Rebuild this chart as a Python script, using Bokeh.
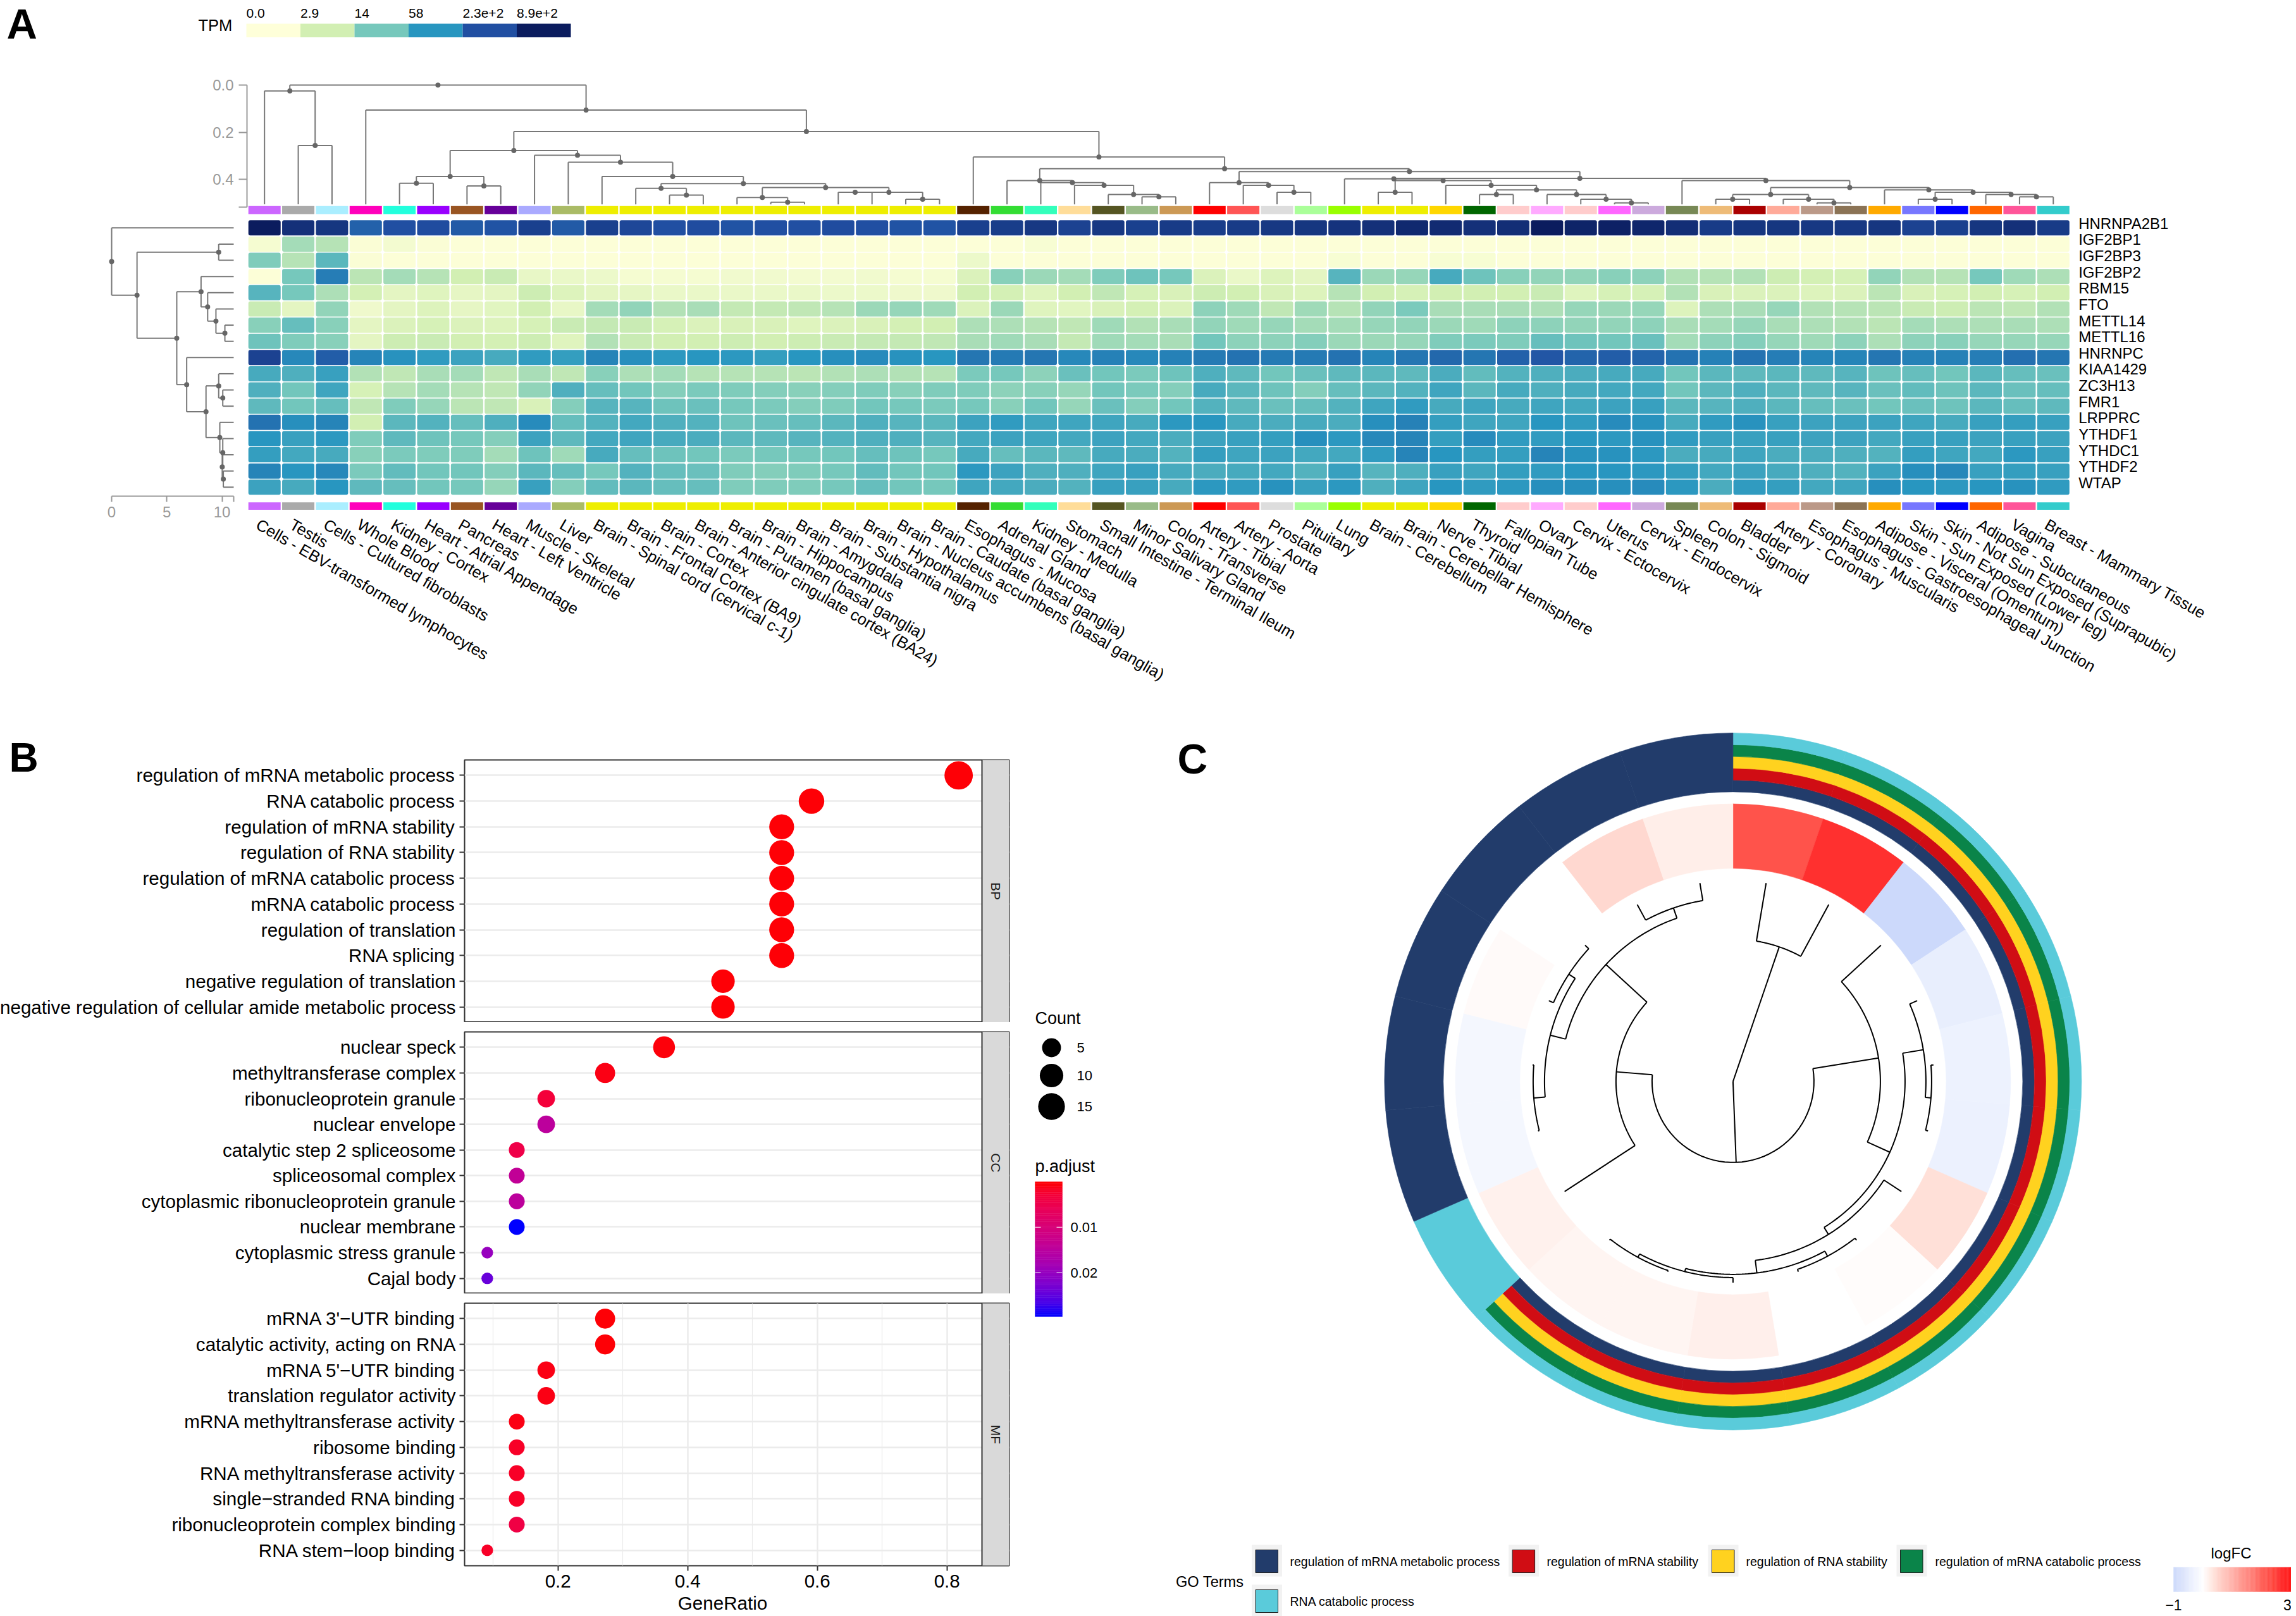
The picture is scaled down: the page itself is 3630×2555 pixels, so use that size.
from math import pi, sin, cos, sqrt
from bokeh.plotting import figure
from bokeh.models import Range1d, FixedTicker
from bokeh.core.properties import value
from bokeh.embed import file_html
from bokeh.resources import INLINE

FONT = "Liberation Sans"

# ------------------------------ PANEL A DATA ------------------------------
tissues = ["Cells - EBV-transformed lymphocytes","Testis","Cells - Cultured fibroblasts","Whole Blood","Kidney - Cortex",
 "Heart - Atrial Appendage","Pancreas","Heart - Left Ventricle","Muscle - Skeletal","Liver","Brain - Spinal cord (cervical c-1)",
 "Brain - Frontal Cortex (BA9)","Brain - Cortex","Brain - Anterior cingulate cortex (BA24)","Brain - Putamen (basal ganglia)",
 "Brain - Hippocampus","Brain - Amygdala","Brain - Substantia nigra","Brain - Hypothalamus","Brain - Nucleus accumbens (basal ganglia)",
 "Brain - Caudate (basal ganglia)","Esophagus - Mucosa","Adrenal Gland","Kidney - Medulla","Stomach","Small Intestine - Terminal Ileum",
 "Minor Salivary Gland","Colon - Transverse","Artery - Tibial","Artery - Aorta","Prostate","Pituitary","Lung","Brain - Cerebellum",
 "Brain - Cerebellar Hemisphere","Nerve - Tibial","Thyroid","Fallopian Tube","Ovary","Cervix - Ectocervix","Uterus","Cervix - Endocervix",
 "Spleen","Colon - Sigmoid","Bladder","Artery - Coronary","Esophagus - Muscularis","Esophagus - Gastroesophageal Junction",
 "Adipose - Visceral (Omentum)","Skin - Sun Exposed (Lower leg)","Skin - Not Sun Exposed (Suprapubic)","Adipose - Subcutaneous","Vagina","Breast - Mammary Tissue"]
tissue_colors = ["#CC66FF","#AAAAAA","#AAEEFF","#FF00BB","#22FFDD","#9900FF","#995522","#660099","#AAAAFF","#AABB66",
 "#EEEE00","#EEEE00","#EEEE00","#EEEE00","#EEEE00","#EEEE00","#EEEE00","#EEEE00","#EEEE00","#EEEE00","#EEEE00",
 "#552200","#33DD33","#33FFBB","#FFDD99","#555522","#99BB88","#CC9955","#FF0000","#FF5555","#DDDDDD","#AAFF99","#99FF00",
 "#EEEE00","#EEEE00","#FFD700","#006600","#FFCCCC","#FFAAFF","#FFCCCC","#FF66FF","#CCAADD","#778855","#EEBB77","#AA0000",
 "#FFAA99","#BB9988","#8B7355","#FFAA00","#7777FF","#0000FF","#FF6600","#FF5599","#33CCCC"]
genes = ["HNRNPA2B1","IGF2BP1","IGF2BP3","IGF2BP2","RBM15","FTO","METTL14","METTL16","HNRNPC","KIAA1429","ZC3H13","FMR1","LRPPRC","YTHDF1","YTHDC1","YTHDF2","WTAP"]
HNRNPA2B1=[100,92,90,75,80,81,77,79,86,77,86,83,80,81,79,80,80,81,80,79,79,86,87,89,85,89,86,88,87,88,89,90,91,92,95,94,92,93,100,97,98,96,93,88,90,90,89,89,90,85,86,90,92,88]
IGF2BP1=[4,30,26,2,5,2,1,1,1,1,1,1,1,1,1,1,1,1,1,1,1,1,1,3,1,1,1,1,1,1,1,1,1,1,1,1,1,1,1,1,1,1,1,1,1,1,1,1,1,1,1,1,1,1]
IGF2BP3=[38,26,47,2,1,1,1,1,1,1,1,1,1,1,1,1,1,1,1,1,1,8,1,1,1,1,1,1,1,1,1,1,3,1,1,3,3,1,1,1,1,1,1,1,1,1,1,1,1,1,1,1,1,1]
IGF2BP2=[1,40,67,25,30,26,20,22,10,9,8,4,4,4,6,6,5,5,6,4,4,16,36,32,30,38,42,40,16,9,15,12,48,32,33,52,42,36,34,34,36,35,27,26,27,21,19,18,34,27,26,40,31,28]
RBM15=[48,40,28,19,12,14,11,12,21,15,12,11,9,9,9,9,9,8,8,7,7,20,19,14,20,24,18,17,21,20,17,15,26,20,18,20,20,20,22,14,18,18,27,17,16,16,15,16,25,17,18,20,18,20]
FTO=[22,12,34,7,12,15,11,13,20,10,30,34,27,29,23,23,24,26,32,33,31,16,32,14,13,17,19,16,35,31,24,31,26,34,39,29,29,29,28,33,32,33,15,28,29,33,27,26,25,22,21,25,24,27]
METTL14=[36,44,36,12,16,18,16,15,18,22,23,22,18,16,17,17,14,16,17,19,20,28,28,26,24,31,27,29,34,31,33,30,30,33,34,32,31,35,35,34,34,35,29,30,33,29,28,27,25,30,28,28,29,28]
METTL16=[42,38,36,12,21,22,20,19,21,14,27,22,20,20,21,20,21,22,23,23,24,29,31,29,23,31,30,29,41,35,35,37,32,32,33,38,39,38,44,42,41,43,30,35,37,33,31,35,28,35,36,33,33,33]
HNRNPC=[85,64,76,65,61,58,55,52,58,57,65,62,59,60,59,57,60,62,63,61,60,69,68,69,64,66,64,66,68,70,68,68,70,65,69,73,69,75,78,74,76,74,70,66,70,67,65,65,69,66,66,67,71,69]
KIAA1429=[52,50,56,27,24,29,30,24,29,24,36,28,30,26,26,26,25,27,28,27,26,39,40,35,43,41,39,42,50,46,41,43,46,47,46,51,45,49,50,51,52,52,41,47,46,47,46,48,42,44,41,47,44,43]
ZC3H13=[50,41,54,18,26,30,26,24,34,50,44,41,37,39,38,37,36,37,38,36,38,38,35,36,33,41,39,37,52,47,42,37,44,47,49,54,47,52,50,52,53,53,41,47,50,47,46,48,43,45,42,47,43,44]
FMR1=[46,41,44,24,38,33,25,24,17,37,48,48,42,43,40,39,37,38,41,40,39,40,36,41,33,43,37,41,49,46,43,44,49,54,58,52,54,52,54,53,55,56,47,48,50,47,44,43,41,43,42,47,44,46]
LRPPRC=[70,62,65,20,47,49,44,50,63,44,49,53,50,49,42,43,44,47,50,48,47,55,58,54,54,54,52,59,60,52,51,52,51,62,66,57,54,54,60,58,63,61,52,58,61,56,55,55,55,54,52,56,57,56]
YTHDF1=[60,56,59,38,46,42,40,37,55,46,53,54,52,51,47,46,48,49,50,50,48,53,55,54,53,55,53,51,55,56,57,62,59,64,65,57,63,58,58,60,59,61,58,56,56,56,55,55,53,56,56,55,56,55]
YTHDC1=[57,53,52,36,39,38,38,30,42,31,52,44,42,41,39,40,40,41,44,42,40,52,44,47,46,52,51,49,57,54,55,53,53,58,65,60,57,57,65,61,61,59,51,52,54,51,51,50,49,57,54,53,59,56]
YTHDF2=[65,60,64,39,45,41,41,37,47,44,40,49,44,43,38,37,38,40,45,41,41,59,55,50,50,54,56,52,51,52,53,49,56,48,50,56,54,57,58,60,60,59,57,53,55,52,50,49,55,62,64,56,57,56]
WTAP=[55,52,60,46,44,41,40,33,56,37,45,47,44,44,38,38,38,40,44,41,40,54,53,51,49,56,56,52,59,58,61,56,59,50,54,60,58,59,62,62,62,63,59,51,58,57,53,54,62,60,59,60,61,58]
expression = [HNRNPA2B1,IGF2BP1,IGF2BP3,IGF2BP2,RBM15,FTO,METTL14,METTL16,HNRNPC,KIAA1429,ZC3H13,FMR1,LRPPRC,YTHDF1,YTHDC1,YTHDF2,WTAP]
tpm_labels = ["0.0","2.9","14","58","2.3e+2","8.9e+2"]
tpm_colors = ["#FEFFD9","#D2EFB3","#76C8BC","#2896C0","#214FA2","#0B1C5E"]

# tissue clustering: (merge distance, left, right); integers are tissue columns
tissue_leaf_distance = 0.505
t_brain = (.417,(.437,11,(.466,12,13)),(.434,(.476,14,(.496,15,16)),(.4535,(.4535,17,18),(.483,19,20))))
t_e = (.277,(.387,(.4155,4,5),(.427,6,7)),(.297,8,(.3265,9,(.387,10,t_brain))))
t_w = (.4043,22,(.4129,23,(.4241,24,(.4634,25,(.4732,26,27)))))
t_ac = (.4129,28,(.4241,29,(.4535,30,31)))
t_an = (.4634,38,(.483,39,(.4985,40,41)))
t_ah = (.4043,(.4535,33,34),(.4241,35,(.4437,(.4634,36,37),t_an)))
t_ai = (.4043,42,(.434,(.4634,(.483,43,44),(.483,45,(.4985,46,47))),(.4437,48,(.4535,(.483,49,50),(.4634,51,(.4732,52,53))))))
t_x = (.3663,t_ac,(.3947,(.397,32,t_ah),t_ai))
t_f = (.3047,21,(.354,t_w,t_x))
tissue_tree = (0.0,(.025,0,(.256,1,2)),(.106,3,(.197,t_e,t_f)))
# gene clustering
gene_leaf_distance = 11.06
gene_tree = (0.0,0,(2.3,(9.7,1,2),(5.9,(8.1,3,(8.7,4,(9.45,5,(10.26,6,7)))),(6.8,8,(8.55,(9.7,9,(10.07,10,11)),(9.8,12,(10.07,13,(10.02,14,(10.12,15,16)))))))))

# ------------------------------ PANEL B DATA ------------------------------
bp_terms = ["regulation of mRNA metabolic process","RNA catabolic process","regulation of mRNA stability","regulation of RNA stability","regulation of mRNA catabolic process","mRNA catabolic process","regulation of translation","RNA splicing","negative regulation of translation","negative regulation of cellular amide metabolic process"]
bp_ratio = [.818,.591,.545,.545,.545,.545,.545,.545,.4545,.4545]
bp_count = [18,13,12,12,12,12,12,12,10,10]
bp_padj = [.0003,.0003,.0003,.0003,.0003,.0003,.0003,.0003,.0003,.0003]
cc_terms = ["nuclear speck","methyltransferase complex","ribonucleoprotein granule","nuclear envelope","catalytic step 2 spliceosome","spliceosomal complex","cytoplasmic ribonucleoprotein granule","nuclear membrane","cytoplasmic stress granule","Cajal body"]
cc_ratio = [.3636,.2727,.1818,.1818,.1364,.1364,.1364,.1364,.0909,.0909]
cc_count = [8,6,4,4,3,3,3,3,2,2]
cc_padj = [.0005,.001,.003,.0148,.0044,.014,.0148,.0296,.0198,.0243]
mf_terms = ["mRNA 3'\u2212UTR binding","catalytic activity, acting on RNA","mRNA 5'\u2212UTR binding","translation regulator activity","mRNA methyltransferase activity","ribosome binding","RNA methyltransferase activity","single\u2212stranded RNA binding","ribonucleoprotein complex binding","RNA stem\u2212loop binding"]
mf_ratio = [.2727,.2727,.1818,.1818,.1364,.1364,.1364,.1364,.1364,.0909]
mf_count = [6,6,4,4,3,3,3,3,3,2]
mf_padj = [.0003,.0003,.001,.001,.001,.002,.002,.002,.004,.002]
ratio_ticks = [.2,.4,.6,.8]
count_legend = [5,10,15]
padj_max = .0296
padj_ticks = [.01,.02]
padj_ramp = ["#FF0000","#F4003A","#E90056","#DC006E","#CD0086","#BC009C","#A800B0","#8F00C4","#7000D6","#4800E8","#0000FF"]

# ------------------------------ PANEL C DATA ------------------------------
go_terms = ["regulation of mRNA metabolic process","regulation of mRNA stability","regulation of RNA stability","regulation of mRNA catabolic process","RNA catabolic process"]
go_colors = ["#223C6B","#D00D14","#FFD21F","#0A8449","#5ACBDA"]
member_metabolic = [1,1,1,1,1,1,1,1,1,1,1,1,0,1,1,1,1,1,1]
member_mrna_stab = [1,1,1,1,1,1,1,1,1,1,1,1,0,0,0,0,0,0,0]
member_rna_stab  = [1,1,1,1,1,1,1,1,1,1,1,1,0,0,0,0,0,0,0]
member_mrna_cat  = [1,1,1,1,1,1,1,1,1,1,1,1,0,0,0,0,0,0,0]
member_rna_cat   = [1,1,1,1,1,1,1,1,1,1,1,1,1,0,0,0,0,0,0]
membership = [member_metabolic,member_mrna_stab,member_rna_stab,member_mrna_cat,member_rna_cat]
logfc = [2.2,2.65,-1.0,-.45,-.35,-.37,.4,.04,0,.2,.13,.13,.18,-.22,-.22,.06,0,.5,.22]
# gene tree: (radius of merge, left, right); integers are genes
go_leaf_radius = 318
go_f = (272,(305,3,(314,4,5)),(285,6,(305,(314,7,8),(310,9,(316,10,11)))))
go_d = (185,12,(273,(298,(316,13,14),(310,15,16)),(290,17,18)))
go_tree = (0,(225,0,1),(128,(233,2,go_f),go_d))

# ------------------------------ helpers ------------------------------
def hex2rgb(h):
    return tuple(int(h[i:i+2],16) for i in (1,3,5))
def rgb2hex(c):
    return "#%02X%02X%02X" % tuple(max(0,min(255,int(round(v)))) for v in c)
def ramp(stops, t):
    t = max(0.0,min(1.0,t))*(len(stops)-1)
    i = min(int(t),len(stops)-2)
    f = t-i
    a,b = hex2rgb(stops[i]),hex2rgb(stops[i+1])
    return rgb2hex([a[k]+(b[k]-a[k])*f for k in range(3)])
def fc_color(v):
    if v>=0:
        g=255-78.3*v
        return rgb2hex((255,g,g-8*min(1,v/.4)*(1 if v<2.5 else .1)))
    return rgb2hex((255+51*v,255+38*v,255+4*v))
def dot_size(c):
    return 5.3*(3+5*sqrt((c-2)/16))+2.5

roots=[]
def bare(p):
    p.outline_line_color=None
    p.background_fill_color=None
    p.border_fill_color=None
    p.grid.visible=False
    return p
def make(X,Y,w,h,xr,yr,l=0,r=0,t=0,b=0,**kw):
    p=figure(width=w,height=h,x_range=xr,y_range=yr,min_border_left=l,min_border_right=r,min_border_top=t,min_border_bottom=b,
             output_backend="svg",toolbar_location=None,styles={"position":"absolute","left":f"{X}px","top":f"{Y}px"},**kw)
    roots.append(p)
    return p
def txt(p,x,y,s,size,align="left",base="middle",color="#000000",style="normal",angle=0,**kw):
    p.text(x=x,y=y,text=s if isinstance(s,list) else [s],text_font=value(FONT),text_font_size=value(f"{size}px"),
           text_align=align,text_baseline=base,text_color=color,text_font_style=style,angle=angle,**kw)

def walk(node,leaf_h,center,segs,dots):
    if isinstance(node,int):
        return node+center,leaf_h
    h,a,b = node
    pa,ha = walk(a,leaf_h,center,segs,dots)
    pb,hb = walk(b,leaf_h,center,segs,dots)
    segs.append(((pa,h),(pb,h)))
    segs.append(((pa,h),(pa,ha)))
    segs.append(((pb,h),(pb,hb)))
    mid=(pa+pb)/2
    dots.append((mid,h))
    return mid,h

# ------------------------------ PANEL A ------------------------------
BX,BW=389.0,85.5
a1 = bare(make(0,0,3630,115,Range1d((0-BX)/BW,(3630-BX)/BW),Range1d(115,0),x_axis_type=None,y_axis_type=None))
n=len(tpm_labels)
a1.quad(left=list(range(n)),right=[i+1 for i in range(n)],top=[37]*n,bottom=[58.6]*n,fill_color=tpm_colors,line_color=None)
txt(a1,list(range(n)),[20]*n,tpm_labels,21)
txt(a1,[-.26],[39],"TPM",25.5,align="right")
txt(a1,[(10-BX)/BW],[36.5],"A",67,style="bold")

CX0,CP,CW=392.2,53.36,51.0
RY0,RP,RH=347.8,25.625,24.0
col_center=CW/CP/2
row_h=RH/RP
col_range=lambda:Range1d((390-CX0)/CP,(3622-CX0)/CP)
DV=lambda Y:(Y-134)/373.5
RV=lambda Y:(Y-RY0)/RP

a2 = bare(make(8,115,3232+382,225,col_range(),Range1d(DV(340),DV(115)),l=382,x_axis_type=None,
               extra_y_ranges={"rows":Range1d(RV(340),RV(115))}))
a2.yaxis.bounds=(0,.5167)
ticks_top=[0,.2,.4,.5167]
a2.yaxis.ticker=FixedTicker(ticks=ticks_top,minor_ticks=[])
a2.yaxis.major_label_overrides={0:"0.0",.2:"0.2",.4:"0.4",.5167:""}
a2.yaxis.axis_line_color="#999999"; a2.yaxis.axis_line_width=2
a2.yaxis.major_tick_line_color="#999999"; a2.yaxis.major_tick_line_width=2
a2.yaxis.major_tick_out=13; a2.yaxis.major_tick_in=0; a2.yaxis.minor_tick_out=0;a2.yaxis.minor_tick_in=0
a2.yaxis.major_label_text_color="#999999"; a2.yaxis.major_label_text_font=FONT; a2.yaxis.major_label_text_font_size="24px"
a2.yaxis.major_label_standoff=8; a2.yaxis.major_label_orientation="horizontal"
segs=[];dots=[]
walk(tissue_tree,tissue_leaf_distance,col_center,segs,dots)
a2.multi_line(xs=[[s[0][0],s[1][0]] for s in segs],ys=[[s[0][1],s[1][1]] for s in segs],line_color="#777777",line_width=2)
a2.scatter(x=[d[0] for d in dots],y=[d[1] for d in dots],size=8,color="#666666",line_color=None)
nc=len(tissues); cols=list(range(nc))
a2.quad(left=cols,right=[c+CW/CP for c in cols],top=[RV(325.3)]*nc,bottom=[RV(338)]*nc,fill_color=tissue_colors,line_color=None,y_range_name="rows")

leftf = bare(make(8,340,382,750,Range1d((8-176)/17.45,(390-176)/17.45),Range1d(RV(784),RV(340)),b=306,y_axis_type=None))
leftf.xaxis.bounds=(0,gene_leaf_distance)
leftf.xaxis.ticker=FixedTicker(ticks=[0,5,10,gene_leaf_distance],minor_ticks=[])
leftf.xaxis.major_label_overrides={0:"0",5:"5",10:"10",gene_leaf_distance:""}
leftf.xaxis.axis_line_color="#999999"; leftf.xaxis.axis_line_width=2
leftf.xaxis.major_tick_line_color="#999999"; leftf.xaxis.major_tick_line_width=2
leftf.xaxis.major_tick_out=9; leftf.xaxis.major_tick_in=0; leftf.xaxis.minor_tick_out=0; leftf.xaxis.minor_tick_in=0
leftf.xaxis.major_label_text_color="#999999"; leftf.xaxis.major_label_text_font=FONT; leftf.xaxis.major_label_text_font_size="24px"
leftf.xaxis.major_label_standoff=7
segs=[];dots=[]
walk(gene_tree,gene_leaf_distance,row_h/2,segs,dots)
leftf.multi_line(xs=[[s[0][1],s[1][1]] for s in segs],ys=[[s[0][0],s[1][0]] for s in segs],line_color="#777777",line_width=2)
leftf.scatter(x=[d[1] for d in dots],y=[d[0] for d in dots],size=8,color="#666666",line_color=None)

heat = bare(make(390,340,3232,830,col_range(),Range1d(RV(1170),RV(340)),x_axis_type=None,y_axis_type=None))
L=[];R=[];T=[];B=[];C=[]
for ri,rowv in enumerate(expression):
    for ci,v in enumerate(rowv):
        L.append(ci);R.append(ci+CW/CP);T.append(ri);B.append(ri+row_h);C.append(ramp(tpm_colors,v/100))
heat.quad(left=L,right=R,top=T,bottom=B,fill_color=C,line_color=None,border_radius=3)
ng=len(genes)
heat.quad(left=cols,right=[c+CW/CP for c in cols],top=[RV(793.7)]*nc,bottom=[RV(805.5)]*nc,fill_color=tissue_colors,line_color=None)
txt(heat,[nc]*ng,[r+row_h/2 for r in range(ng)],genes,24,x_offset=12,y_offset=-7)
txt(heat,[c+col_center for c in cols],[ng]*nc,tissues,25.3,angle=-pi/6,x_offset=-11,y_offset=43)

# ------------------------------ PANEL B ------------------------------
GX=lambda X:(X-676.7)/1025
STRIP=GX(1552)
def facet(Y,terms,ratio,count,padj,name,h,top,bottom,with_axis):
    kw={} if with_axis else {"x_axis_type":None}
    p=make(-40,Y,1640,h,Range1d(GX(734),GX(1595)),Range1d(len(terms)-.4,-.6),l=774,r=5,t=top,b=bottom,**kw)
    p.background_fill_color=None; p.border_fill_color=None
    p.outline_line_color="#333333"; p.outline_line_width=2
    ys=list(range(len(terms)))
    p.yaxis.ticker=FixedTicker(ticks=ys,minor_ticks=[])
    p.yaxis.major_label_overrides={i:t for i,t in enumerate(terms)}
    for ax in p.axis:
        ax.axis_line_color=None
        ax.major_tick_out=8; ax.major_tick_in=0; ax.minor_tick_out=0; ax.minor_tick_in=0
        ax.major_tick_line_color="#333333"; ax.major_tick_line_width=2
        ax.major_label_text_font=FONT; ax.major_label_text_font_size="29.6px"; ax.major_label_text_color="#000000"
        ax.major_label_standoff=6
    p.ygrid.ticker=FixedTicker(ticks=ys)
    p.ygrid.grid_line_color="#EBEBEB"; p.ygrid.grid_line_width=2.4
    tk=FixedTicker(ticks=ratio_ticks,minor_ticks=[.1,.3,.5,.7])
    p.xgrid.ticker=tk
    p.xgrid.grid_line_color="#EBEBEB"; p.xgrid.grid_line_width=2.4
    p.xgrid.minor_grid_line_color="#EBEBEB"; p.xgrid.minor_grid_line_width=1.2
    if with_axis:
        p.xaxis.ticker=tk
    p.scatter(x=ratio,y=ys,size=[dot_size(c) for c in count],fill_color=[ramp(padj_ramp,v/padj_max) for v in padj],line_color=None)
    p.quad(left=[STRIP],right=[GX(1595)],top=[-.6],bottom=[len(terms)-.4],fill_color="#D9D9D9",line_color=None)
    p.segment(x0=[STRIP],x1=[STRIP],y0=[-.6],y1=[len(terms)-.4],line_color="#333333",line_width=2)
    txt(p,[GX(1573.5)],[(len(terms)-1)/2],name,21,align="center",color="#1A1A1A",angle=-pi/2)
    return p
b1=facet(1090,bp_terms,bp_ratio,bp_count,bp_padj,"BP",526,111,0,False)
b2=facet(1616,cc_terms,cc_ratio,cc_count,cc_padj,"CC",429,15,0,False)
b3=facet(2045,mf_terms,mf_ratio,mf_count,mf_padj,"MF",502,15,72,True)

letter_b = bare(make(8,1160,90,76,Range1d(8,98),Range1d(1236,1160),x_axis_type=None,y_axis_type=None))
txt(letter_b,[14],[1197],"B",64,style="bold")
ratio_title = bare(make(1000,2512,284,43,Range1d(1000,1284),Range1d(2555,2512),x_axis_type=None,y_axis_type=None))
txt(ratio_title,[1142],[2534],"GeneRatio",29.6,align="center")

leg = bare(make(1600,1090,200,1457,Range1d(1600,1800),Range1d(2547,1090),x_axis_type=None,y_axis_type=None))
txt(leg,[1636],[1609],"Count",27)
leg_y=[1656,1700,1749]
leg.scatter(x=[1662]*3,y=leg_y,size=[dot_size(c) for c in count_legend],color="#000000",line_color=None)
txt(leg,[1702]*3,leg_y,[str(c) for c in count_legend],22)
txt(leg,[1636],[1843],"p.adjust",27)
ny=64; bar_top,bar_bot=1868,2081
ps=[i/ny for i in range(ny)]
leg.quad(left=[1636]*ny,right=[1679]*ny,top=[bar_top+(bar_bot-bar_top)*q for q in ps],bottom=[bar_top+(bar_bot-bar_top)*(q+1/ny) for q in ps],
         fill_color=[ramp(padj_ramp,q+.5/ny) for q in ps],line_color=[ramp(padj_ramp,q+.5/ny) for q in ps],line_width=.5)
tick_y=[bar_top+(bar_bot-bar_top)*v/padj_max for v in padj_ticks]
leg.segment(x0=[1636]*2,x1=[1645]*2,y0=tick_y,y1=tick_y,line_color="#FFFFFF",line_width=1.2,line_alpha=.8)
leg.segment(x0=[1670]*2,x1=[1679]*2,y0=tick_y,y1=tick_y,line_color="#FFFFFF",line_width=1.2,line_alpha=.8)
txt(leg,[1692]*2,tick_y,[f"{v:.2f}" for v in padj_ticks],22)

# ------------------------------ PANEL C ------------------------------
CXc,CYc=2739.4,1709.4
c=bare(make(1800,1090,1822,1465,Range1d(1800-CXc,3622-CXc),Range1d(CYc-2555,CYc-1090),x_axis_type=None,y_axis_type=None))
ns=len(logfc); step=2*pi/ns
sa=[pi/2-(i+1)*step for i in range(ns)]
ea=[pi/2-i*step for i in range(ns)]
fcc=[fc_color(v) for v in logfc]
c.annular_wedge(x=[0]*ns,y=[0]*ns,inner_radius=337,outer_radius=439,start_angle=sa,end_angle=ea,fill_color=fcc,line_color=fcc,line_width=.5,direction="anticlock")
ri=[];ro=[];sb=[];eb=[];colb=[]
for s in range(ns):
    mem=[k for k in range(len(go_terms)) if membership[k][s]]
    w=93.0/len(mem)
    for j,k in enumerate(mem):
        ri.append(458+j*w);ro.append(458+(j+1)*w);sb.append(sa[s]);eb.append(ea[s]);colb.append(go_colors[k])
c.annular_wedge(x=[0]*len(ri),y=[0]*len(ri),inner_radius=ri,outer_radius=ro,start_angle=sb,end_angle=eb,fill_color=colb,line_color=colb,line_width=.6,direction="anticlock")
polar_x=[];polar_y=[]
def pol(th,r): return r*sin(th),r*cos(th)
def walk_polar(node):
    if isinstance(node,int):
        return (node+.5)*step,go_leaf_radius
    r,a,b=node
    ta,ra=walk_polar(a); tb,rb=walk_polar(b)
    if r>0:
        m=48
        pts=[pol(ta+(tb-ta)*i/m,r) for i in range(m+1)]
        polar_x.append([q[0] for q in pts]); polar_y.append([q[1] for q in pts])
    for th,rc in ((ta,ra),(tb,rb)):
        p0,p1=pol(th,r),pol(th,rc)
        polar_x.append([p0[0],p1[0]]); polar_y.append([p0[1],p1[1]])
    return (ta+tb)/2,r
walk_polar(go_tree)
c.multi_line(xs=polar_x,ys=polar_y,line_color="#000000",line_width=2)
SX=lambda X:X-CXc
SY=lambda Y:CYc-Y
txt(c,[SX(1861)],[SY(1199)],"C",66,style="bold")
key_x=[1978.5,2384.6,2700,2998,1978.5]
key_y=[2442,2442,2442,2442,2505]
text_x=[2039,2445,2760,3059,2039]
for k,term in enumerate(go_terms):
    X,Y=key_x[k],key_y[k]
    c.quad(left=[SX(X)],right=[SX(X+48)],top=[SY(Y)],bottom=[SY(Y+50)],fill_color="#F2F2F2",line_color=None)
    c.quad(left=[SX(X+6)],right=[SX(X+41.5)],top=[SY(Y+8)],bottom=[SY(Y+44)],fill_color=go_colors[k],line_color="#222222",line_width=1)
    txt(c,[SX(text_x[k])],[SY(Y+26)],term,19.5)
txt(c,[SX(1966)],[SY(2500)],"GO Terms",23.6,align="right")
txt(c,[SX(3527)],[SY(2455)],"logFC",24,align="center")
nb=90; fx0,fx1=3436,3622
fc_vals=[-1+4*(i+.5)/nb for i in range(nb)]
fc_cols=[fc_color(v) for v in fc_vals]
c.quad(left=[SX(fx0+(fx1-fx0)*i/nb) for i in range(nb)],right=[SX(fx0+(fx1-fx0)*(i+1)/nb) for i in range(nb)],top=[SY(2477.6)]*nb,bottom=[SY(2516)]*nb,fill_color=fc_cols,line_color=fc_cols,line_width=.4)
txt(c,[SX(fx0)],[SY(2537)],"\u22121",23,align="center")
txt(c,[SX(fx1-6)],[SY(2537)],"3",23,align="center")

open("out.html","w").write(file_html(roots,INLINE))
